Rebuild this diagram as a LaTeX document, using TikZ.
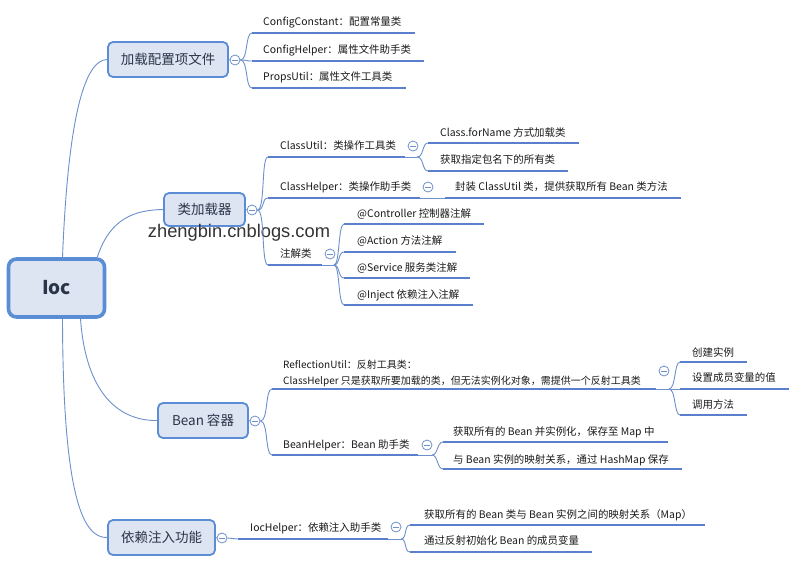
\documentclass[tikz,border=0pt]{standalone}
\usepackage{fontspec}
\setmainfont{Noto Sans CJK SC}
\newfontfamily\wmfont{Liberation Sans}
\usetikzlibrary{calc}
\definecolor{ul}{HTML}{5A80CD}
\definecolor{cn}{HTML}{6D90CC}
\definecolor{bd}{HTML}{5B8DD6}
\definecolor{bf}{HTML}{DCE5F1}
\definecolor{txt}{HTML}{1A1A1A}
\definecolor{btxt}{HTML}{2B3548}
\begin{document}
\begin{tikzpicture}[x=1pt,y=-1pt,
  leaf/.style={anchor=west, inner sep=0pt, text=txt, font=\fontsize{10.45}{16}\selectfont},
  uline/.style={draw=ul, line width=2.7pt},
  conn/.style={draw=cn, line width=0.9pt},
  branchbox/.style={draw=bd, line width=1.8pt, fill=bf, rounded corners=5pt, text=btxt,
     inner sep=0pt, font=\fontsize{13.5}{15}\selectfont},
  rootbox/.style={draw=bd, line width=3.6pt, fill=bf, rounded corners=8pt, text=btxt,
     inner sep=0pt, font=\fontsize{19}{21}\selectfont\bfseries},
  fold/.style={circle, draw=cn, fill=white, minimum size=10pt, inner sep=0pt, line width=0.8pt,
     path picture={\draw[cn, line width=0.8pt] ([xshift=-2.6pt]path picture bounding box.center) -- ([xshift=2.6pt]path picture bounding box.center);}},
  wm/.style={inner sep=0pt, text=black!80, font=\wmfont\fontsize{18.3}{20}\selectfont}
]
\fill[white] (0,0) rectangle (791,566);
\useasboundingbox (0,0) rectangle (791,566);

% ---------- root and branches ----------
\node[rootbox, minimum width=96pt, minimum height=58pt] (root) at (56.5,288) {Ioc};
\node[branchbox, minimum width=120pt, minimum height=35pt] (b1) at (168,59.5) {加载配置项文件};
\node[branchbox, minimum width=81pt, minimum height=33pt] (b2) at (204.5,209.5) {类加载器};
\node[branchbox, minimum width=90pt, minimum height=35pt] (b3) at (203,420.5) {Bean 容器};
\node[branchbox, minimum width=107pt, minimum height=35pt] (b4) at (161.5,537.5) {依赖注入功能};

\draw[conn] ($(root.north)+(6,0)$) .. controls (68,120) and (84,60) .. (b1.west);
\draw[conn] ($(root.north east)+(-9,0)$) .. controls (110,218) and (135,210) .. (b2.west);
\draw[conn] ($(root.south)+(24,0)$) .. controls (86,395) and (120,421) .. (b3.west);
\draw[conn] ($(root.south)+(6,0)$) .. controls (63,505) and (85,538) .. (b4.west);

\node[fold] (f1) at (235,60) {};
\node[fold] (f2) at (252,210) {};
\node[fold] (f3) at (255,421) {};
\node[fold] (f4) at (222,538) {};
\draw[conn] (b1.east) -- (f1.west);
\draw[conn] (b2.east) -- (f2.west);
\draw[conn] (b3.east) -- (f3.west);
\draw[conn] (b4.east) -- (f4.west);

\node[wm] (wm) at (239,233) {zhengbin.cnblogs.com};

% ---------- branch 1 ----------
\node[leaf] (t11) at (263,22) {ConfigConstant：配置常量类};
\node[leaf] (t12) at (263,50) {ConfigHelper：属性文件助手类};
\node[leaf] (t13) at (263,77) {PropsUtil：属性文件工具类};
\coordinate (u11) at (252,33);
\coordinate (u12) at (252,61);
\coordinate (u13) at (252,88);
\draw[uline] (u11) -- ($(t11.east |- u11)+(13,0)$);
\draw[uline] (u12) -- ($(t12.east |- u12)+(13,0)$);
\draw[uline] (u13) -- ($(t13.east |- u13)+(13,0)$);
\foreach \u in {u11,u12,u13}
  \draw[conn] (f1.east) .. controls +(8,0) and +(-7,0) .. (\u);

% ---------- branch 2 ----------
\node[leaf] (t21) at (280,146) {ClassUtil：类操作工具类};
\node[leaf] (t22) at (280,187) {ClassHelper：类操作助手类};
\node[leaf] (t23) at (280,254) {注解类};
\coordinate (u21) at (268,157);
\coordinate (u22) at (268,198);
\coordinate (u23) at (268,265);
\coordinate (u21e) at (405,157);
\coordinate (u22e) at (420,198);
\coordinate (u23e) at (322,265);
\draw[uline] (u21) -- (u21e);
\draw[uline] (u22) -- (u22e);
\draw[uline] (u23) -- (u23e);
\foreach \u in {u21,u22,u23}
  \draw[conn] (f2.east) .. controls +(8,0) and +(-7,0) .. (\u);

% ClassUtil children
\node[fold] (f21) at (413,146) {};
\coordinate (j21) at (417,157);
\draw[conn] (u21e) -- (j21);
\node[leaf] (t211) at (440,133) {Class.forName 方式加载类};
\node[leaf] (t212) at (440,160) {获取指定包名下的所有类};
\coordinate (u211) at (428,143);
\coordinate (u212) at (428,171);
\draw[uline] (u211) -- ($(t211.east |- u211)+(13,0)$);
\draw[uline] (u212) -- ($(t212.east |- u212)+(13,0)$);
\foreach \u in {u211,u212}
  \draw[conn] (j21) .. controls +(7,0) and +(-6,0) .. (\u);

% ClassHelper child
\node[fold] (f22) at (428,187) {};
\node[leaf] (t221) at (455,187) {封装 ClassUtil 类，提供获取所有 Bean 类方法};
\coordinate (u221) at (445,198);
\draw[conn] (u22e) -- (u221);
\draw[uline] (u221) -- ($(t221.east |- u221)+(13,0)$);

% annotation children
\node[fold] (f23) at (330,254) {};
\coordinate (j23) at (334,265);
\draw[conn] (u23e) -- (j23);
\node[leaf] (t231) at (357,214) {@Controller 控制器注解};
\node[leaf] (t232) at (357,241) {@Action 方法注解};
\node[leaf] (t233) at (357,268) {@Service 服务类注解};
\node[leaf] (t234) at (357,295) {@Inject 依赖注入注解};
\coordinate (u231) at (344,224);
\coordinate (u232) at (344,252);
\coordinate (u233) at (344,278);
\coordinate (u234) at (344,305);
\draw[uline] (u231) -- ($(t231.east |- u231)+(13,0)$);
\draw[uline] (u232) -- ($(t232.east |- u232)+(13,0)$);
\draw[uline] (u233) -- ($(t233.east |- u233)+(13,0)$);
\draw[uline] (u234) -- ($(t234.east |- u234)+(13,0)$);
\foreach \u in {u231,u232,u233,u234}
  \draw[conn] (j23) .. controls +(6,0) and +(-6,0) .. (\u);

% ---------- branch 3 ----------
\node[leaf, align=left, font=\fontsize{10}{16}\selectfont] (t31) at (283,373) {ReflectionUtil：反射工具类：\\ClassHelper 只是获取所要加载的类，但无法实例化对象，需提供一个反射工具类};
\node[leaf] (t32) at (283,445) {BeanHelper：Bean 助手类};
\coordinate (u31) at (272,389);
\coordinate (u32) at (272,455);
\coordinate (u31e) at (656,389);
\coordinate (u32e) at (418,455);
\draw[uline] (u31) -- (u31e);
\draw[uline] (u32) -- (u32e);
\foreach \u in {u31,u32}
  \draw[conn] (f3.east) .. controls +(8,0) and +(-7,0) .. (\u);

\node[fold] (f31) at (664,371) {};
\coordinate (j31) at (669,389);
\draw[conn] (u31e) -- (j31);
\node[leaf] (t311) at (692,352) {创建实例};
\node[leaf] (t312) at (692,378) {设置成员变量的值};
\node[leaf] (t313) at (692,405) {调用方法};
\coordinate (u311) at (680,362);
\coordinate (u312) at (680,389);
\coordinate (u313) at (680,415);
\draw[uline] (u311) -- ($(t311.east |- u311)+(13,0)$);
\draw[uline] (u312) -- ($(t312.east |- u312)+(13,0)$);
\draw[uline] (u313) -- ($(t313.east |- u313)+(13,0)$);
\foreach \u in {u311,u312,u313}
  \draw[conn] (j31) .. controls +(7,0) and +(-6,0) .. (\u);

\node[fold] (f32) at (427,445) {};
\coordinate (j32) at (432,455);
\draw[conn] (u32e) -- (j32);
\node[leaf] (t321) at (453,432) {获取所有的 Bean 并实例化，保存至 Map 中};
\node[leaf] (t322) at (453,460) {与 Bean 实例的映射关系，通过 HashMap 保存};
\coordinate (u321) at (443,442);
\coordinate (u322) at (443,469);
\draw[uline] (u321) -- ($(t321.east |- u321)+(13,0)$);
\draw[uline] (u322) -- ($(t322.east |- u322)+(13,0)$);
\foreach \u in {u321,u322}
  \draw[conn] (j32) .. controls +(6,0) and +(-6,0) .. (\u);

% ---------- branch 4 ----------
\node[leaf] (t41) at (250,528) {IocHelper：依赖注入助手类};
\coordinate (u41) at (238,539);
\coordinate (u41e) at (388,539);
\draw[conn] (f4.east) -- (u41);
\draw[uline] (u41) -- (u41e);
\node[fold] (f41) at (396,527) {};
\coordinate (j41) at (401,539);
\draw[conn] (u41e) -- (j41);
\node[leaf] (t411) at (424,515) {获取所有的 Bean 类与 Bean 实例之间的映射关系（Map）};
\node[leaf] (t412) at (424,541) {通过反射初始化 Bean 的成员变量};
\coordinate (u411) at (410,525);
\coordinate (u412) at (410,552);
\draw[uline] (u411) -- ($(t411.east |- u411)+(13,0)$);
\draw[uline] (u412) -- ($(t412.east |- u412)+(13,0)$);
\foreach \u in {u411,u412}
  \draw[conn] (j41) .. controls +(6,0) and +(-6,0) .. (\u);
\end{tikzpicture}
\end{document}
